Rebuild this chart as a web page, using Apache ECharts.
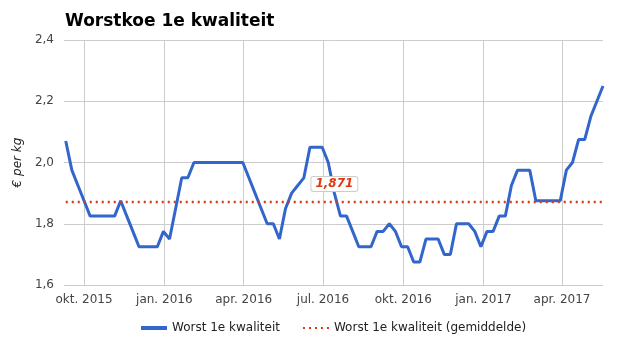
<!DOCTYPE html>
<html>
<head>
<meta charset="utf-8">
<script src="https://cdn.jsdelivr.net/npm/echarts@6/dist/echarts.min.js"></script>
<style>
  html, body { margin: 0; padding: 0; background: #fff; }
  #chart { width: 625px; height: 355px; }
</style>
</head>
<body>
<div id="chart"></div>
<script>
// ---- Data (weekly prices, € per kg) ----
var startDate = [2015, 8, 10]; // 10 Sep 2015 (month 0-based)
var seriesName = 'Worst 1e kwaliteit';
var avgName = 'Worst 1e kwaliteit (gemiddelde)';
var prices = [
  2.07, 1.975, 1.925, 1.875, 1.825, 1.825, 1.825, 1.825, 1.825, 1.875,
  1.825, 1.775, 1.725, 1.725, 1.725, 1.725, 1.775, 1.75, 1.85, 1.95,
  1.95, 2.0, 2.0, 2.0, 2.0, 2.0, 2.0, 2.0, 2.0, 2.0,
  1.95, 1.9, 1.85, 1.8, 1.8, 1.75, 1.85, 1.9, 1.925, 1.95,
  2.05, 2.05, 2.05, 2.0, 1.9, 1.825, 1.825, 1.775, 1.725, 1.725,
  1.725, 1.775, 1.775, 1.8, 1.775, 1.725, 1.725, 1.675, 1.675, 1.75,
  1.75, 1.75, 1.7, 1.7, 1.8, 1.8, 1.8, 1.775, 1.725, 1.775,
  1.775, 1.825, 1.825, 1.925, 1.975, 1.975, 1.975, 1.875, 1.875, 1.875,
  1.875, 1.875, 1.975, 2.0, 2.075, 2.075, 2.15, 2.2, 2.25
];
var avgValue = 1.871;
var avgLabelIndex = 44;
var yTicks = [1.6, 1.8, 2.0, 2.2, 2.4];
var quarterTicks = [[2015, 9, 1], [2016, 0, 1], [2016, 3, 1], [2016, 6, 1], [2016, 9, 1], [2017, 0, 1], [2017, 3, 1]];
var monthNames = ['jan.', 'feb.', 'mrt.', 'apr.', 'mei', 'jun.', 'jul.', 'aug.', 'sep.', 'okt.', 'nov.', 'dec.'];

// ---- Build ----
function ts(a) { return new Date(a[0], a[1], a[2]).getTime(); }
var dates = prices.map(function (v, i) {
  return new Date(startDate[0], startDate[1], startDate[2] + 7 * i).getTime();
});
var mainData = dates.map(function (d, i) { return [d, prices[i]]; });
var avgData = dates.map(function (d) { return [d, avgValue]; });
var qTs = quarterTicks.map(ts);

var chart = echarts.init(document.getElementById('chart'), null, { renderer: 'canvas' });
chart.setOption({
  animation: false,
  backgroundColor: '#ffffff',
  title: {
    text: 'Worstkoe 1e kwaliteit',
    left: 60, top: 8,
    textStyle: { fontFamily: 'DejaVu Sans', fontWeight: 'bold', fontSize: 17, color: '#000' }
  },
  grid: { left: 64, right: 22, top: 40, bottom: 70 },
  legend: {
    bottom: 16, left: 134,
    itemWidth: 26, itemHeight: 12, itemGap: 22,
    itemStyle: { opacity: 0 },
    textStyle: { fontFamily: 'DejaVu Sans', fontSize: 12, color: '#222' },
    data: [
      { name: seriesName, lineStyle: { width: 4 } },
      { name: avgName }
    ]
  },
  xAxis: {
    type: 'value',
    min: ts([2015, 8, 8]),
    max: ts([2017, 4, 18]),
    axisLine: { show: false },
    axisTick: { show: false, customValues: qTs },
    splitLine: { show: true, lineStyle: { color: '#cccccc', width: 1 } },
    axisLabel: {
      customValues: qTs,
      margin: 9,
      color: '#444',
      fontFamily: 'DejaVu Sans', fontSize: 12,
      formatter: function (v) {
        var d = new Date(v);
        return monthNames[d.getMonth()] + ' ' + d.getFullYear();
      }
    }
  },
  yAxis: {
    type: 'value',
    min: yTicks[0], max: yTicks[yTicks.length - 1], interval: 0.2,
    name: '€ per kg',
    nameLocation: 'middle', nameGap: 40, nameRotate: 90,
    nameTextStyle: { fontFamily: 'DejaVu Sans', fontStyle: 'italic', fontSize: 12, color: '#222' },
    axisLine: { show: false },
    axisTick: { show: false },
    splitLine: { lineStyle: { color: '#cccccc', width: 1 } },
    axisLabel: {
      margin: 10, color: '#444',
      fontFamily: 'DejaVu Sans', fontSize: 12,
      formatter: function (v) { return v.toFixed(1).replace('.', ','); }
    }
  },
  series: [
    {
      name: seriesName,
      type: 'line',
      data: mainData,
      symbol: 'none',
      lineStyle: { color: '#3366cc', width: 3 },
      itemStyle: { color: '#3366cc' },
      z: 3
    },
    {
      name: avgName,
      type: 'line',
      data: avgData,
      symbol: 'none',
      lineStyle: { color: '#dc3912', width: 2.5, type: [2, 4] },
      itemStyle: { color: '#dc3912' },
      markPoint: {
        symbol: 'circle',
        symbolSize: 0,
        silent: true,
        data: [{ coord: [dates[avgLabelIndex], avgValue], value: avgValue }],
        label: {
          show: true,
          position: 'top', distance: 11,
          formatter: function (p) { return p.value.toFixed(3).replace('.', ','); },
          color: '#dc3912', fontStyle: 'italic', fontWeight: 'bold',
          fontFamily: 'DejaVu Sans', fontSize: 12,
          backgroundColor: '#fff', borderColor: '#cccccc', borderWidth: 1, borderRadius: 2,
          padding: [1, 4, 1, 4]
        }
      },
      z: 4
    }
  ]
});
</script>
</body>
</html>
